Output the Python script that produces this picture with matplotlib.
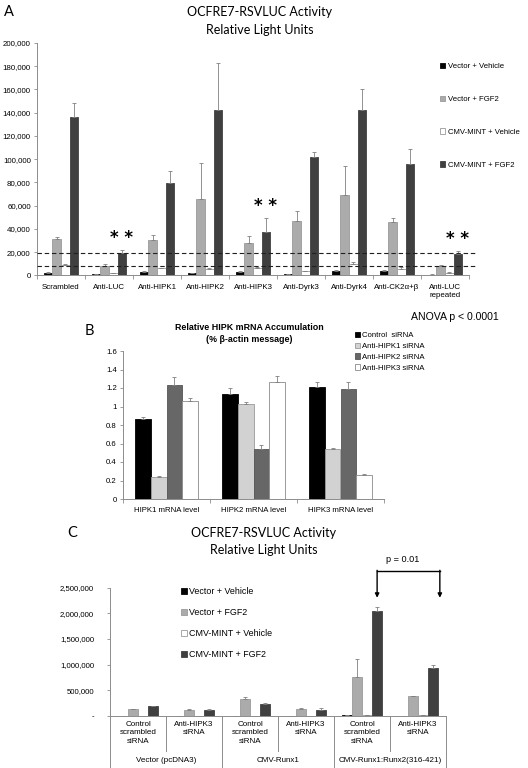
import numpy as np
import matplotlib
matplotlib.use('Agg')
import matplotlib.pyplot as plt
import matplotlib.transforms as mtransforms
from matplotlib.lines import Line2D
from matplotlib.ticker import FuncFormatter, FixedLocator

# ---------------- Data ----------------
# Panel A
cats_A = ['Scrambled', 'Anti-LUC', 'Anti-HIPK1', 'Anti-HIPK2', 'Anti-HIPK3',
          'Anti-Dyrk3', 'Anti-Dyrk4', 'Anti-CK2α+β', 'Anti-LUC\nrepeated']
labels_A = ['Vector + Vehicle', 'Vector + FGF2', 'CMV-MINT + Vehicle', 'CMV-MINT + FGF2']
vec_veh = [2200, 800, 3100, 1700, 3100, 1200, 4000, 4000, 600]
vec_veh_err = [300, 100, 500, 200, 300, 200, 500, 500, 100]
vec_fgf = [31000, 8000, 30500, 66000, 28000, 47000, 69500, 46000, 8000]
vec_fgf_err = [2000, 1500, 4500, 31000, 6000, 8500, 25000, 3500, 500]
mint_veh = [9000, 2000, 6000, 5400, 6500, 3700, 9700, 5700, 2200]
mint_veh_err = [1000, 300, 500, 1000, 800, 300, 1700, 1700, 400]
mint_fgf = [136000, 18900, 79500, 142500, 37400, 102000, 142500, 95500, 18300]
mint_fgf_err = [12000, 2700, 10000, 40000, 11600, 4500, 17500, 13500, 2700]
star_groups_A = [1, 4, 8]

# Panel B
cats_B = ['HIPK1 mRNA level', 'HIPK2 mRNA level', 'HIPK3 mRNA level']
labels_B = ['Control  siRNA', 'Anti-HIPK1 siRNA', 'Anti-HIPK2 siRNA', 'Anti-HIPK3 siRNA']
ctrl_si = [0.87, 1.13, 1.21]
ctrl_si_err = [0.02, 0.07, 0.06]
hipk1_si = [0.24, 1.03, 0.54]
hipk1_si_err = [0.005, 0.02, 0.01]
hipk2_si = [1.23, 0.54, 1.19]
hipk2_si_err = [0.09, 0.04, 0.08]
hipk3_si = [1.06, 1.27, 0.26]
hipk3_si_err = [0.03, 0.06, 0.005]
ticks_B = [0, 0.2, 0.4, 0.6, 0.8, 1.0, 1.2, 1.4, 1.6]

# Panel C
sub_C = ['Control\nscrambled\nsiRNA', 'Anti-HIPK3\nsiRNA'] * 3
main_C = ['Vector (pcDNA3)', 'CMV-Runx1', 'CMV-Runx1:Runx2(316-421)']
c_vec_veh = [3000, 3000, 5000, 4000, 12000, 8000]
c_vec_veh_err = [0, 0, 0, 0, 0, 0]
c_vec_fgf = [130000, 122000, 335000, 145000, 760000, 380000]
c_vec_fgf_err = [12000, 5000, 35000, 10000, 340000, 10000]
c_mint_veh = [3000, 3000, 4000, 3000, 20000, 10000]
c_mint_veh_err = [0, 0, 0, 0, 0, 0]
c_mint_fgf = [185000, 125000, 233000, 110000, 2050000, 930000]
c_mint_fgf_err = [15000, 5000, 18000, 45000, 75000, 70000]
ticks_C = [0, 500000, 1000000, 1500000, 2000000, 2500000]
p_text = 'p = 0.01'

# ---------------- Layout helpers ----------------
W, H = 528, 768
def fx(x): return x / W
def fy(y): return 1 - y / H

SANS = ['Liberation Sans', 'DejaVu Sans']
TITLE = ['Lato', 'DejaVu Sans']
plt.rcParams['font.family'] = SANS

fig = plt.figure(figsize=(W / 100, H / 100), dpi=100)

AXC = '#8c8c8c'
ERR = dict(ecolor='#808080', elinewidth=0.6, capsize=1.3, capthick=0.6)


def style_axes(ax, fs):
    for s in ['top', 'right']:
        ax.spines[s].set_visible(False)
    for s in ['left', 'bottom']:
        ax.spines[s].set_color(AXC)
        ax.spines[s].set_linewidth(0.7)
    ax.tick_params(axis='y', length=2.5, width=0.6, color=AXC, labelsize=fs, pad=2)
    ax.tick_params(axis='x', which='major', length=0, labelsize=fs)
    ax.tick_params(axis='x', which='minor', length=3, width=0.6, color=AXC)


def grouped(ax, x, series, bw):
    n = len(series)
    handles = []
    for i, (v, e, fc, ec, lab) in enumerate(series):
        off = (i - (n - 1) / 2) * bw
        b = ax.bar(x + off, v, bw, color=fc, edgecolor=ec, linewidth=0.6, label=lab,
                   yerr=[np.zeros(len(v)), e], error_kw=ERR, zorder=2)
        handles.append(b)
    return handles

# ---------------- Panel A ----------------
axA = fig.add_axes([fx(37), fy(275.3), (469 - 37) / W, (275.3 - 43) / H])
xA = np.arange(len(cats_A))
bwA = 0.18
serA = [(vec_veh, vec_veh_err, '#050505', '#050505', labels_A[0]),
        (vec_fgf, vec_fgf_err, '#ababab', '#9a9a9a', labels_A[1]),
        (mint_veh, mint_veh_err, '#ffffff', '#9a9a9a', labels_A[2]),
        (mint_fgf, mint_fgf_err, '#404040', '#404040', labels_A[3])]
hA = grouped(axA, xA, serA, bwA)
axA.set_xlim(-0.5, len(cats_A) - 0.5)
axA.set_ylim(0, 200000)
axA.set_yticks(np.arange(0, 200001, 20000))
axA.yaxis.set_major_formatter(FuncFormatter(lambda v, p: f'{v:,.0f}'))
axA.set_xticks(xA)
axA.set_xticklabels(cats_A, linespacing=1.3)
axA.xaxis.set_minor_locator(FixedLocator(np.arange(-0.5, len(cats_A), 1.0)))
style_axes(axA, 5.7)
axA.tick_params(axis='x', which='major', pad=6)
# dashed reference lines at Anti-LUC levels
for yv in [mint_fgf[1], vec_fgf[1]]:
    axA.plot([-0.5, 8.62], [yv, yv], ls=(0, (4, 2.5)), color='#202020', lw=0.8,
             clip_on=False, zorder=3)
for k in star_groups_A:
    axA.text(xA[k] + 1.5 * bwA, mint_fgf[k] + mint_fgf_err[k] + 2500, '* *',
             ha='center', va='bottom', fontsize=12, fontweight='bold', family=['DejaVu Sans'])
axA.legend(handles=hA, loc='upper left', bbox_to_anchor=(fx(440), fy(63)),
           bbox_transform=fig.transFigure, frameon=False, fontsize=5.6,
           handlelength=0.7, handleheight=0.7, handletextpad=0.3,
           labelspacing=3.25, borderpad=0, borderaxespad=0)

fig.text(fx(4), fy(12), 'A', fontsize=10.5, ha='left', va='center', family=TITLE)
fig.text(fx(260), fy(12), 'OCFRE7-RSVLUC Activity', fontsize=9, ha='center', va='center', family=TITLE)
fig.text(fx(260), fy(30), 'Relative Light Units', fontsize=9, ha='center', va='center', family=TITLE)
fig.text(fx(411), fy(317), 'ANOVA p < 0.0001', fontsize=7.6, ha='left', va='center')

# ---------------- Panel B ----------------
axB = fig.add_axes([fx(123), fy(499), (384 - 123) / W, (499 - 351) / H])
xB = np.arange(len(cats_B))
bwB = 0.18
serB = [(ctrl_si, ctrl_si_err, '#000000', '#000000', labels_B[0]),
        (hipk1_si, hipk1_si_err, '#d2d2d2', '#9a9a9a', labels_B[1]),
        (hipk2_si, hipk2_si_err, '#676767', '#555555', labels_B[2]),
        (hipk3_si, hipk3_si_err, '#ffffff', '#8a8a8a', labels_B[3])]
hB = grouped(axB, xB, serB, bwB)
axB.set_xlim(-0.5, len(cats_B) - 0.5)
axB.set_ylim(0, 1.6)
axB.set_yticks(ticks_B)
axB.yaxis.set_major_formatter(FuncFormatter(lambda v, p: f'{v:g}'))
axB.set_xticks(xB)
axB.set_xticklabels(cats_B)
axB.xaxis.set_minor_locator(FixedLocator(np.arange(-0.5, len(cats_B), 1.0)))
style_axes(axB, 5.6)
axB.tick_params(axis='x', which='major', pad=6)
axB.legend(handles=hB, loc='upper left', bbox_to_anchor=(fx(355), fy(332)),
           bbox_transform=fig.transFigure, frameon=False, fontsize=5.6,
           handlelength=0.7, handleheight=0.7, handletextpad=0.2,
           labelspacing=0.42, borderpad=0, borderaxespad=0)
fig.text(fx(85), fy(331), 'B', fontsize=10.5, ha='left', va='center', family=TITLE)
fig.text(fx(249), fy(328), 'Relative HIPK mRNA Accumulation', fontsize=6.4,
         fontweight='bold', ha='center', va='center')
fig.text(fx(249), fy(340), '(% β-actin message)', fontsize=6.4,
         fontweight='bold', ha='center', va='center')

# ---------------- Panel C ----------------
axC = fig.add_axes([fx(110), fy(716), (446 - 110) / W, (716 - 587.5) / H])
xC = np.arange(len(sub_C))
bwC = 0.18
serC = [(c_vec_veh, c_vec_veh_err, '#050505', '#050505', labels_A[0]),
        (c_vec_fgf, c_vec_fgf_err, '#ababab', '#9a9a9a', labels_A[1]),
        (c_mint_veh, c_mint_veh_err, '#ffffff', '#9a9a9a', labels_A[2]),
        (c_mint_fgf, c_mint_fgf_err, '#404040', '#404040', labels_A[3])]
hC = grouped(axC, xC, serC, bwC)
axC.set_xlim(-0.5, len(sub_C) - 0.5)
axC.set_ylim(0, 2500000)
axC.set_yticks(ticks_C)
axC.yaxis.set_major_formatter(FuncFormatter(lambda v, p: '-' if v == 0 else f'{v:,.0f}'))
axC.set_xticks([])
style_axes(axC, 5.6)
axC.tick_params(axis='y', pad=9)

trC = mtransforms.blended_transform_factory(axC.transData, fig.transFigure)
for i, lab in enumerate(sub_C):
    axC.text(xC[i], fy(721), lab, transform=trC, ha='center', va='top',
             fontsize=5.8, linespacing=1.3)
for j, lab in enumerate(main_C):
    axC.text(2 * j + 0.5, fy(761), lab, transform=trC, ha='center', va='center', fontsize=5.8)
for b in np.arange(-0.5, len(sub_C), 1.0):
    long_sep = (int(round(b + 0.5)) % 2 == 0)
    y1 = fy(768) if long_sep else fy(751)
    fig.add_artist(Line2D([b, b], [fy(716), y1], transform=trC, color=AXC, lw=0.7))

# significance bracket between the two CMV-Runx1:Runx2 CMV-MINT + FGF2 bars
xa = xC[4] + 1.5 * bwC
xb = xC[5] + 1.5 * bwC + 0.12
ytop = 2820000
ytip = 2300000
axC.plot([xa, xb], [ytop, ytop], color='black', lw=1.0, clip_on=False)
for xx in [xa, xb]:
    axC.annotate('', xy=(xx, ytip), xytext=(xx, ytop + 15000),
                 arrowprops=dict(arrowstyle='-|>', color='black', lw=1.0, mutation_scale=6,
                                 shrinkA=0, shrinkB=0),
                 annotation_clip=False)
axC.text((xa + xb) / 2 - 0.1, 3050000, p_text, ha='center', va='center', fontsize=6.6)

axC.legend(handles=hC, loc='upper left', bbox_to_anchor=(fx(181), fy(587)),
           bbox_transform=fig.transFigure, frameon=False, fontsize=6.4,
           handlelength=0.7, handleheight=0.7, handletextpad=0.2,
           labelspacing=1.35, borderpad=0, borderaxespad=0)

fig.text(fx(67), fy(533), 'C', fontsize=10.5, ha='left', va='center', family=TITLE)
fig.text(fx(264), fy(533), 'OCFRE7-RSVLUC Activity', fontsize=9, ha='center', va='center', family=TITLE)
fig.text(fx(264), fy(550), 'Relative Light Units', fontsize=9, ha='center', va='center', family=TITLE)

fig.savefig('out.png', dpi=100, facecolor='white')
